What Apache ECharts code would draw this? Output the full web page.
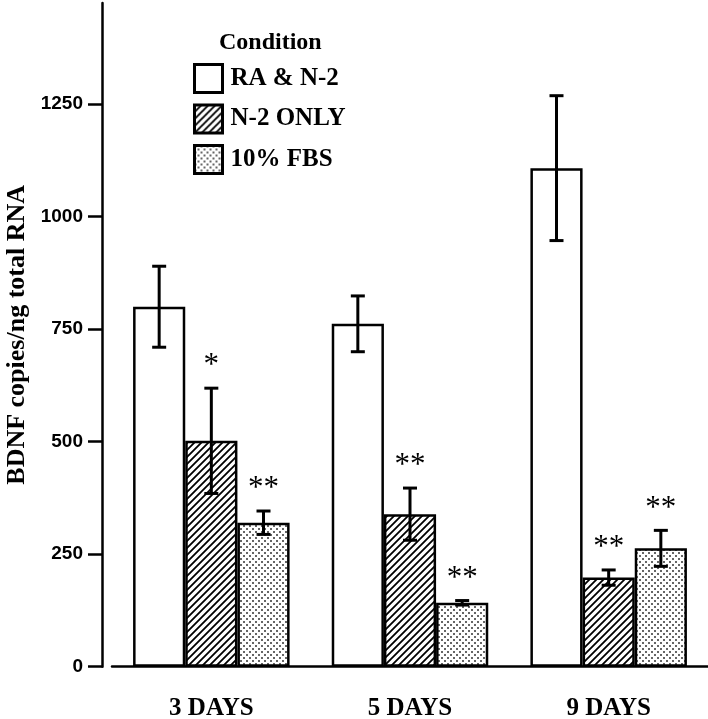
<!DOCTYPE html>
<html>
<head>
<meta charset="utf-8">
<script src="https://cdn.jsdelivr.net/npm/echarts@6/dist/echarts.min.js"></script>
<style>html,body{margin:0;padding:0;background:#fff}#c{width:708px;height:719px}</style>
</head>
<body>
<div id="c"></div>
<script>
const categories = ['3 DAYS', '5 DAYS', '9 DAYS'];
const seriesNames = ['RA & N-2', 'N-2 ONLY', '10% FBS'];
const raMean = [800, 762, 1108];
const raErr = [90, 62, 161];
const n2Mean = [502, 339, 198];
const n2Err = [117, 58, 17];
const fbsMean = [320, 142, 263];
const fbsErr = [26, 5, 40];
const raSig = ['', '', ''];
const n2Sig = ['*', '**', '**'];
const fbsSig = ['**', '**', '**'];
const yTicks = [0, 250, 500, 750, 1000, 1250];
const yMax = 1475;
const yName = 'BDNF copies/ng total RNA';
const legendTitle = 'Condition';

const BAR_FRAC = 0.2626;
const SERIF = '"Liberation Serif", "Times New Roman", serif';
const SANS = '"Liberation Sans", Arial, sans-serif';

function hatchCanvas() {
  const s = 7, c = document.createElement('canvas');
  c.width = s; c.height = s;
  const g = c.getContext('2d');
  g.fillStyle = '#fff'; g.fillRect(0, 0, s, s);
  g.strokeStyle = '#000'; g.lineWidth = 1.8;
  g.beginPath();
  g.moveTo(-1, s + 1); g.lineTo(s + 1, -1);
  g.moveTo(-1, 1); g.lineTo(1, -1);
  g.moveTo(s - 1, s + 1); g.lineTo(s + 1, s - 1);
  g.stroke();
  return c;
}
function dotCanvas() {
  const s = 6, c = document.createElement('canvas');
  c.width = s; c.height = s;
  const g = c.getContext('2d');
  g.fillStyle = '#fff'; g.fillRect(0, 0, s, s);
  g.fillStyle = '#666';
  g.fillRect(0, 0, 2, 2);
  g.fillRect(3, 3, 2, 2);
  return c;
}

const fills = ['#ffffff', { image: hatchCanvas(), repeat: 'repeat' }, { image: dotCanvas(), repeat: 'repeat' }];
const means = [raMean, n2Mean, fbsMean];
const errs = [raErr, n2Err, fbsErr];
const sigs = [raSig, n2Sig, fbsSig];

const series = [];
seriesNames.forEach((name, k) => {
  series.push({
    name: name,
    type: 'bar',
    data: means[k],
    barWidth: (BAR_FRAC * 100) + '%',
    barGap: '0%',
    itemStyle: { color: fills[k], borderColor: '#000', borderWidth: 2.5 },
    z: 2
  });
});
seriesNames.forEach((name, k) => {
  series.push({
    name: name + ' err',
    type: 'custom',
    z: 5,
    data: categories.map((c, i) => [i, means[k][i], errs[k][i]]),
    renderItem: function (params, api) {
      const i = api.value(0), m = api.value(1), e = api.value(2);
      const c = api.coord([i, m]);
      const bw = api.size([1, 0])[0] * BAR_FRAC;
      const x = c[0] + (k - 1) * bw;
      const yTop = api.coord([i, m + e])[1];
      const yBot = api.coord([i, m - e])[1];
      const cap = 7;
      const ls = { stroke: '#000', lineWidth: 3 };
      const children = [
        { type: 'line', shape: { x1: x, y1: yTop, x2: x, y2: yBot }, style: ls },
        { type: 'line', shape: { x1: x - cap, y1: yTop, x2: x + cap, y2: yTop }, style: ls },
        { type: 'line', shape: { x1: x - cap, y1: yBot, x2: x + cap, y2: yBot }, style: ls }
      ];
      const s = sigs[k][params.dataIndex];
      if (s) {
        children.push({
          type: 'text',
          style: { text: s, x: x, y: yTop - 22, font: '31px ' + SERIF, fill: '#000', align: 'center', verticalAlign: 'middle' }
        });
      }
      return { type: 'group', children: children };
    }
  });
});

const chart = echarts.init(document.getElementById('c'));
chart.setOption({
  animation: false,
  backgroundColor: '#fff',
  title: {
    text: legendTitle, left: 219, top: 31, padding: 0,
    textStyle: { fontFamily: SERIF, fontWeight: 'bold', fontSize: 24, color: '#000' }
  },
  legend: {
    data: seriesNames,
    orient: 'vertical',
    left: 193, top: 63, padding: 0,
    itemWidth: 28, itemHeight: 28, itemGap: 9.5,
    icon: 'rect',
    itemStyle: { borderColor: '#000', borderWidth: 3 },
    textStyle: { fontFamily: SERIF, fontWeight: 'bold', fontSize: 25, color: '#000', padding: [0, 0, 0, 3] },
    selectedMode: false
  },
  grid: { left: 112, right: 0, top: 3, bottom: 52.3, containLabel: false, outerBoundsMode: 'none' },
  xAxis: {
    type: 'category',
    data: categories,
    axisLine: { lineStyle: { color: '#000', width: 2.5 } },
    axisTick: { alignWithLabel: true, length: 17, lineStyle: { color: '#000', width: 2.5 } },
    axisLabel: { margin: 29, fontFamily: SERIF, fontWeight: 'bold', fontSize: 25, color: '#000' }
  },
  yAxis: {
    type: 'value',
    min: 0, max: yMax,
    offset: 10,
    name: yName,
    nameLocation: 'middle',
    nameGap: 72,
    nameTextStyle: { fontFamily: SERIF, fontWeight: 'bold', fontSize: 26, color: '#000' },
    splitLine: { show: false },
    axisLine: { show: true, lineStyle: { color: '#000', width: 2.5 } },
    axisTick: { show: true, length: 14, customValues: yTicks, lineStyle: { color: '#000', width: 2.5 } },
    axisLabel: { margin: 19, customValues: yTicks, formatter: v => String(v), fontFamily: SANS, fontWeight: 'bold', fontSize: 19, color: '#000' }
  },
  series: series
});
</script>
</body>
</html>
